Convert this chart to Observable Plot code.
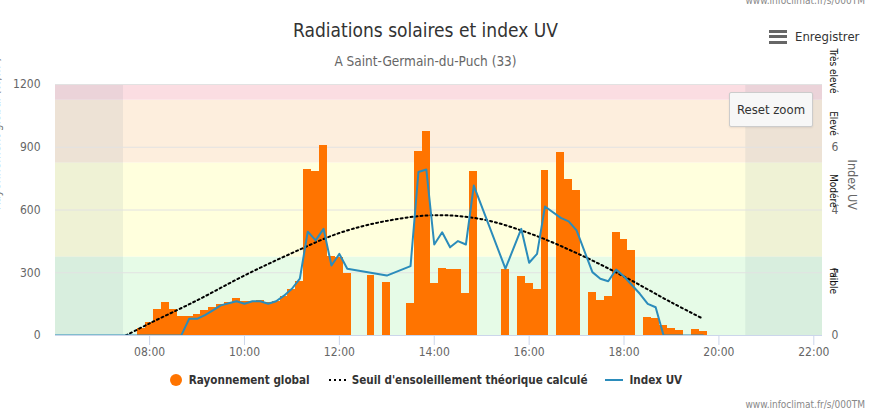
<!DOCTYPE html>
<html>
<head>
<meta charset="utf-8">
<script src="https://cdn.jsdelivr.net/npm/d3@7"></script>
<script src="https://cdn.jsdelivr.net/npm/@observablehq/plot@0.6"></script>
<style>
  html, body { margin: 0; padding: 0; background: #fff; }
  #wrap { position: relative; width: 869px; height: 409px; overflow: hidden;
          font-family: "DejaVu Sans Condensed", "DejaVu Sans", sans-serif; font-stretch: condensed; }
  .abs { position: absolute; white-space: nowrap; }
  #title { left: 0; width: 851px; top: 19px; text-align: center; font-size: 19px; color: #333; }
  #subtitle { left: 0; width: 851px; top: 53px; text-align: center; font-size: 13.5px; color: #666; }
  #wm-top { right: 4px; top: -5px; font-size: 10px; color: #888; }
  #wm-bot { right: 4px; bottom: -1px; font-size: 10px; color: #888; }
  #menu { left: 769px; top: 29px; font-size: 13px; color: #333; display: flex; align-items: center; }
  #menu .burger { width: 18px; height: 14px; margin-right: 8px; display: inline-block; position: relative; }
  #menu .burger i { position: absolute; left: 0; width: 18px; height: 3px; background: #666; }
  #chart { left: 0; top: 44px; }
  #reset { left: 729px; top: 92px; width: 82px; height: 33px; background: #f7f7f7; border: 1px solid #cccccc;
           border-radius: 2px; font-size: 13px; color: #333; display: flex; align-items: center; justify-content: center;
           box-shadow: 0 1px 2px rgba(0,0,0,0.08); }
  #legend { left: 0; width: 851px; top: 373px; display: flex; justify-content: center; align-items: center;
            font-size: 11.6px; font-weight: bold; color: #333; }
  #legend .item { display: flex; align-items: center; margin: 0 9px; }
  #legend svg { margin-right: 6px; }
</style>
</head>
<body>
<div id="wrap">
  <div class="abs" id="wm-top">www.infoclimat.fr/s/000TM</div>
  <div class="abs" id="title">Radiations solaires et index UV</div>
  <div class="abs" id="subtitle">A Saint-Germain-du-Puch (33)</div>
  <div class="abs" id="menu"><span class="burger"><i style="top:0"></i><i style="top:5.5px"></i><i style="top:11px"></i></span>Enregistrer</div>
  <div class="abs" id="chart"></div>
  <div class="abs" id="reset">Reset zoom</div>
  <div class="abs" id="legend"></div>
  <div class="abs" id="wm-bot">www.infoclimat.fr/s/000TM</div>
</div>
<script>
// ---------- data ----------
const xDomain = ["06:01", "22:11"];
const xTickLabels = ["08:00", "10:00", "12:00", "14:00", "16:00", "18:00", "20:00", "22:00"];
const yTicks = [0, 300, 600, 900, 1200];
const uvTicks = [0, 2, 4, 6];

// Rayonnement global (W/m²), 10-minute values
const rayTimes = ["07:50","08:00","08:10","08:20","08:30","08:40","08:50","09:00","09:10","09:20","09:30","09:40","09:50",
  "10:00","10:10","10:20","10:30","10:40","10:50","11:00","11:10","11:20","11:30","11:40","11:50","12:00","12:10",
  "12:40","13:00","13:30","13:40","13:50","14:00","14:10","14:20","14:30","14:40","14:50","15:30","15:50","16:00",
  "16:10","16:20","16:40","16:50","17:00","17:20","17:30","17:40","17:50","18:00","18:10","18:30","18:40","18:50",
  "19:00","19:10","19:30","19:40"];
const rayValues = [32,62,124,158,124,91,91,100,119,133,150,160,175,
  162,164,167,160,163,188,218,258,792,784,908,380,375,298,
  287,253,155,880,975,250,322,314,314,202,784,317,282,249,
  220,789,875,746,693,206,167,186,492,459,406,88,80,48,
  33,24,30,19];

// Seuil d'ensoleillement théorique calculé (W/m²)
const seuilTimes = ["07:30","08:00","09:00","10:00","11:00","12:00","13:00","14:00","15:00","16:00","17:00","18:00","19:00","19:40"];
const seuilValues = [0,58,168,287,394,490,548,575,556,489,394,282,158,80];

// Index UV
const uvTimes = ["06:00","08:40","08:50","09:00","09:10","09:20","09:30","09:40","09:50","10:00","10:10","10:20","10:30",
  "10:40","10:50","11:00","11:10","11:20","11:30","11:40","11:50","12:00","12:10","13:00","13:30","13:40","13:50",
  "14:00","14:10","14:20","14:30","14:40","14:50","15:30","15:50","16:00","16:10","16:20","16:40","16:50","17:00",
  "17:20","17:30","17:40","17:50","18:00","18:20","18:30","18:40","18:50","19:40"];
const uvValues = [0,0,0.53,0.53,0.65,0.80,0.96,1.03,1.09,1.01,1.09,1.09,1.01,
  1.09,1.27,1.49,1.81,3.31,3.03,3.40,2.23,2.60,2.13,1.91,2.21,5.21,5.29,
  2.90,3.29,2.81,3.01,2.90,4.78,2.13,3.40,2.32,2.60,4.11,3.75,3.64,3.35,
  2.02,1.81,1.73,2.10,1.88,1.33,1.01,0.90,0,0];

// UV bands
const bandLabels = ["Faible", "Modéré", "Elevé", "Très elevé"];
const bandFrom = [0, 2.5, 5.5, 7.5];
const bandTo = [2.5, 5.5, 7.5, 9.5];
const bandColors = ["#e6fbe7", "#ffffdd", "#fdeedd", "#fbdde2"];

// night (before sunrise / after sunset)
const nightFrom = ["06:00", "20:34"];
const nightTo = ["07:27", "22:30"];

// ---------- chart ----------
const FONT = '"DejaVu Sans Condensed", "DejaVu Sans", sans-serif';
const parse = d3.utcParse("%H:%M");
const fmt = d3.utcFormat("%H:%M");
const UVK = 1200 / 8; // right axis: 8 UV = 1200 W/m²
const HALF = 5 * 60 * 1000;

const ray = rayTimes.map((s, i) => ({t: parse(s), v: rayValues[i]}));
const seuil = seuilTimes.map((s, i) => ({t: parse(s), v: seuilValues[i]}));
const uv = uvTimes.map((s, i) => ({t: parse(s), v: uvValues[i]}));
const bands = bandLabels.map((l, i) => ({label: l, from: bandFrom[i], to: bandTo[i], color: bandColors[i]}));
const night = nightFrom.map((s, i) => ({a: parse(s), b: parse(nightTo[i])}));
const xTicks = xTickLabels.map(parse);

const chart = Plot.plot({
  width: 869,
  height: 321,
  marginLeft: 55,
  marginRight: 47,
  marginTop: 40,
  marginBottom: 30,
  style: {fontFamily: FONT, fontSize: "12px", background: "transparent", fontStretch: "condensed", overflow: "visible"},
  x: {type: "utc", domain: xDomain.map(parse)},
  y: {domain: [0, 1200]},
  marks: [
    Plot.rect(bands, {y1: d => d.from * UVK, y2: d => d.to * UVK, fill: d => d.color, clip: true}),
    Plot.rect(night, {x1: "a", x2: "b", fill: "#4f6d80", fillOpacity: 0.09, clip: true}),
    Plot.gridY(yTicks, {stroke: "#e2e2e2", strokeOpacity: 1}),
    Plot.ruleY([0], {stroke: "#ccd6eb"}),
    Plot.rect(ray, {x1: d => new Date(+d.t - HALF), x2: d => new Date(+d.t + HALF), y1: 0, y2: "v",
      fill: "#ff7400", shapeRendering: "crispEdges", clip: true}),
    Plot.line(seuil, {x: "t", y: "v", curve: "catmull-rom", stroke: "#000", strokeWidth: 2,
      strokeDasharray: "2,3", clip: true}),
    Plot.line(uv, {x: "t", y: d => d.v * UVK, stroke: "#2b8cbb", strokeWidth: 2, clip: true}),
    // x axis: tick marks and labels
    Plot.axisX({ticks: xTicks, tickSize: 10, tickFormat: () => "", stroke: "#ccd6eb", color: "#ccd6eb", label: null}),
    Plot.axisX({ticks: xTicks, tickSize: 0, tickPadding: 12, tickFormat: fmt, color: "#666", fontSize: 12, label: null}),
    // left axis
    Plot.axisY({ticks: yTicks, tickSize: 0, tickPadding: 15, tickFormat: d3.format("d"), color: "#666", fontSize: 12, label: null}),
    Plot.text(["Rayonnement global (W/m²)"], {frameAnchor: "left", text: d => d, rotate: -90, dx: -59.5, fill: "#777", fontSize: 12}),
    // right (UV) axis
    Plot.axisY({anchor: "right", ticks: uvTicks.map(u => u * UVK), tickFormat: d => d / UVK, tickSize: 0, tickPadding: 9,
      color: "#666", fontSize: 12, label: null}),
    Plot.text(bands, {y: d => d.to * UVK, text: "label", frameAnchor: "right", rotate: 90, textAnchor: "start",
      dx: 11, dy: 11, fill: "#111", fontSize: 10}),
    Plot.text(["Index UV"], {frameAnchor: "right", text: d => d, rotate: 90, dx: 29, fill: "#666", fontSize: 12.5})
  ]
});
document.getElementById("chart").appendChild(chart);

// ---------- legend ----------
const legend = document.getElementById("legend");
const items = [
  {label: "Rayonnement global", sym: '<svg width="14" height="14"><circle cx="7" cy="7" r="6" fill="#ff7400"/></svg>'},
  {label: "Seuil d'ensoleillement théorique calculé", sym: '<svg width="18" height="14"><line x1="1" x2="18" y1="7" y2="7" stroke="#000" stroke-width="2" stroke-dasharray="2,3"/></svg>'},
  {label: "Index UV", sym: '<svg width="18" height="14"><line x1="0" x2="18" y1="7" y2="7" stroke="#2b8cbb" stroke-width="2"/></svg>'}
];
items.forEach(it => {
  const d = document.createElement("div");
  d.className = "item";
  d.innerHTML = it.sym + "<span>" + it.label + "</span>";
  legend.appendChild(d);
});
</script>
</body>
</html>
